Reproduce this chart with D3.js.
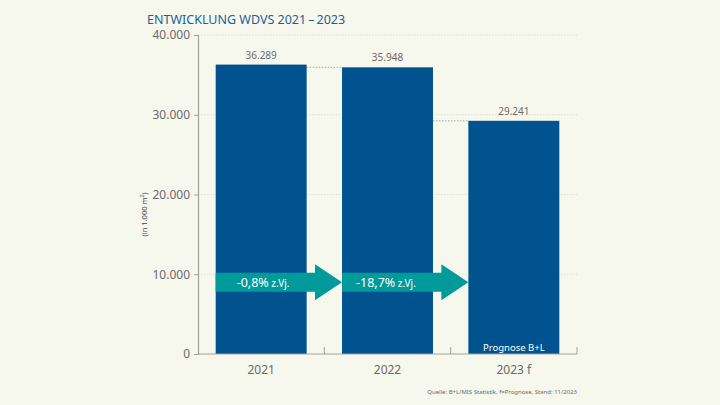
<!DOCTYPE html>
<html>
<head>
<meta charset="utf-8">
<script src="https://cdn.jsdelivr.net/npm/d3@7"></script>
<style>
  html, body { margin: 0; padding: 0; background: #f6f7ed; }
  svg { display: block; font-family: "Noto Sans", "Open Sans", sans-serif; }
</style>
</head>
<body>
<div id="container"></div>
<script>
const categories = ["2021", "2022", "2023 f"];
const values = [36289, 35948, 29241];
const valueLabels = ["36.289", "35.948", "29.241"];
const yTicks = [0, 10000, 20000, 30000, 40000];
const yTickLabels = ["0", "10.000", "20.000", "30.000", "40.000"];
const changes = ["-0,8%", "-18,7%"];
const arrowLevel = 9000;

const width = 720, height = 405;
const blue = "#00538f", teal = "#009a9b", grey = "#6b6b6b";

const svg = d3.select("#container").append("svg")
  .attr("width", width)
  .attr("height", height);

svg.append("rect").attr("width", width).attr("height", height).attr("fill", "#f6f7ed");

const x = d3.scaleBand().domain(categories).range([198, 577]).paddingInner(0.28).paddingOuter(0.14);
const y = d3.scaleLinear().domain([0, 40000]).range([354, 35]);

// title
svg.append("text")
  .attr("x", 147).attr("y", 24)
  .attr("fill", "#1d5f9b")
  .attr("font-size", 12.5)
  .text("ENTWICKLUNG WDVS 2021\u2009\u2013\u20092023");

// gridlines
svg.append("g").selectAll("line")
  .data(yTicks.slice(1))
  .join("line")
  .attr("x1", 198).attr("x2", 577)
  .attr("y1", d => y(d)).attr("y2", d => y(d))
  .attr("stroke", "#d9dbd0")
  .attr("stroke-width", 0.8)
  .attr("stroke-dasharray", "1.5,1.5");

// y axis
const yAxis = svg.append("g")
  .attr("transform", "translate(198,0)")
  .call(d3.axisLeft(y).tickValues(yTicks).tickFormat((d, i) => yTickLabels[i]).tickSize(4).tickPadding(4));
yAxis.select(".domain").attr("stroke", "#a3a39b").attr("stroke-width", 1.2);
yAxis.selectAll(".tick line").attr("stroke", "#a3a39b");
yAxis.selectAll(".tick text").attr("fill", grey).attr("font-size", 12).attr("font-family", "Noto Sans");

svg.append("text")
  .attr("transform", "translate(147," + y(17500) + ") rotate(-90)")
  .attr("text-anchor", "middle")
  .attr("fill", "#444")
  .attr("font-size", 7.5)
  .html("(in 1.000 m<tspan dy='-3' font-size='5'>2</tspan><tspan dy='3'>)</tspan>");

// bars
svg.append("g").selectAll("rect")
  .data(values)
  .join("rect")
  .attr("x", (d, i) => x(categories[i]))
  .attr("y", d => y(d))
  .attr("width", x.bandwidth())
  .attr("height", d => y(0) - y(d))
  .attr("fill", blue);

// value labels
svg.append("g").selectAll("text")
  .data(values)
  .join("text")
  .attr("x", (d, i) => x(categories[i]) + x.bandwidth() / 2)
  .attr("y", d => y(d) - 6)
  .attr("text-anchor", "middle")
  .attr("fill", grey)
  .attr("font-size", 10)
  .text((d, i) => valueLabels[i]);

// dotted connectors
svg.append("g").selectAll("line")
  .data(values.slice(1))
  .join("line")
  .attr("x1", (d, i) => x(categories[i]) + x.bandwidth())
  .attr("x2", (d, i) => x(categories[i + 1]))
  .attr("y1", d => y(d)).attr("y2", d => y(d))
  .attr("stroke", "#8a96a8")
  .attr("stroke-width", 0.8)
  .attr("stroke-dasharray", "1.5,1.5");

// x axis
const xAxisY = y(0);
svg.append("line")
  .attr("x1", 198).attr("x2", 577)
  .attr("y1", xAxisY).attr("y2", xAxisY)
  .attr("stroke", "#a3a39b").attr("stroke-width", 1.2);
svg.append("g").selectAll("line")
  .data(categories)
  .join("line")
  .attr("x1", (d, i) => 198 + x.step() * (i + 1))
  .attr("x2", (d, i) => 198 + x.step() * (i + 1))
  .attr("y1", xAxisY).attr("y2", xAxisY - 7)
  .attr("stroke", "#a3a39b").attr("stroke-width", 1);
svg.append("g").selectAll("text")
  .data(categories)
  .join("text")
  .attr("x", d => x(d) + x.bandwidth() / 2)
  .attr("y", 374)
  .attr("text-anchor", "middle")
  .attr("fill", grey)
  .attr("font-size", 12)
  .text(d => d);

// arrows
const ay = y(arrowLevel);
const arrows = svg.append("g").selectAll("g")
  .data(changes)
  .join("g");
arrows.append("path")
  .attr("d", (d, i) => {
    const x0 = x(categories[i]);
    const x1 = x(categories[i + 1]);
    const hx = x1 - 27;
    return `M${x0},${ay - 9.5}H${hx}V${ay - 18}L${x1},${ay}L${hx},${ay + 18}V${ay + 9.5}H${x0}Z`;
  })
  .attr("fill", teal);
arrows.append("text")
  .attr("x", (d, i) => x(categories[i]) + (i === 0 ? 21 : 14))
  .attr("y", ay + 4.5)
  .attr("fill", "#fff")
  .attr("font-size", 12.5)
  .html(d => d + "<tspan font-size='10'> z.Vj.</tspan>");

// forecast note
svg.append("text")
  .attr("x", x(categories[2]) + x.bandwidth() / 2)
  .attr("y", 351)
  .attr("text-anchor", "middle")
  .attr("fill", "#fff")
  .attr("font-size", 9.5)
  .text("Prognose B+L");

// source
svg.append("text")
  .attr("x", 577).attr("y", 394)
  .attr("text-anchor", "end")
  .attr("fill", grey)
  .attr("font-size", 6)
  .text("Quelle: B+L/MIS Statistik, f=Prognose, Stand: 11/2023");
</script>
</body>
</html>
